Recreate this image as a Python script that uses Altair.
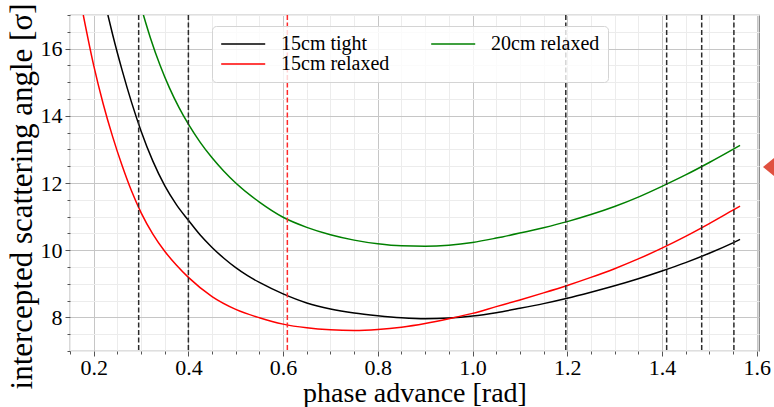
import altair as alt
import pandas as pd

# Intercepted scattering angle vs. phase advance for three collimator setups
phase_tight = [0.23, 0.24, 0.26, 0.28, 0.30, 0.325, 0.35, 0.375, 0.40, 0.425, 0.45, 0.475,
               0.50, 0.525, 0.55, 0.60, 0.65, 0.70, 0.75, 0.80, 0.85, 0.90, 0.95, 1.00,
               1.05, 1.10, 1.15, 1.20, 1.25, 1.30, 1.35, 1.40, 1.45, 1.50, 1.55, 1.565]
angle_tight = [17.0, 16.42, 15.36, 14.40, 13.55, 12.65, 11.92, 11.35, 10.89, 10.45, 10.08, 9.76,
               9.48, 9.24, 9.04, 8.70, 8.43, 8.25, 8.13, 8.05, 7.99, 7.96, 7.98, 8.04,
               8.14, 8.27, 8.41, 8.57, 8.75, 8.94, 9.15, 9.38, 9.63, 9.91, 10.22, 10.32]

phase_relaxed15 = [0.178, 0.20, 0.22, 0.24, 0.26, 0.28, 0.30, 0.325, 0.35, 0.375, 0.40, 0.45,
                   0.50, 0.55, 0.60, 0.65, 0.70, 0.75, 0.80, 0.85, 0.90, 0.95, 1.00, 1.05,
                   1.10, 1.15, 1.20, 1.25, 1.30, 1.35, 1.40, 1.45, 1.50, 1.55, 1.565]
angle_relaxed15 = [17.0, 15.5, 14.36, 13.38, 12.52, 11.76, 11.12, 10.48, 9.97, 9.55, 9.19, 8.62,
                   8.24, 7.99, 7.80, 7.69, 7.63, 7.61, 7.64, 7.71, 7.82, 7.96, 8.12, 8.32,
                   8.52, 8.73, 8.95, 9.19, 9.45, 9.74, 10.06, 10.41, 10.79, 11.19, 11.31]

phase_relaxed20 = [0.305, 0.32, 0.34, 0.36, 0.38, 0.40, 0.425, 0.45, 0.475, 0.50, 0.55, 0.60,
                   0.65, 0.70, 0.75, 0.80, 0.85, 0.90, 0.95, 1.00, 1.05, 1.10, 1.15, 1.20,
                   1.25, 1.30, 1.35, 1.40, 1.45, 1.50, 1.55, 1.565]
angle_relaxed20 = [17.0, 16.31, 15.51, 14.83, 14.25, 13.75, 13.21, 12.75, 12.35, 12.0, 11.43, 10.98,
                   10.68, 10.46, 10.30, 10.19, 10.13, 10.12, 10.15, 10.23, 10.36, 10.51, 10.67, 10.85,
                   11.06, 11.30, 11.58, 11.90, 12.24, 12.61, 13.0, 13.12]

series_names = ["15cm tight", "15cm relaxed", "20cm relaxed"]
series_colors = ["#000000", "#ff0000", "#008000"]

# marked phase advances
cuts_black = [0.295, 0.400, 1.197, 1.410, 1.484, 1.552]
cuts_red = [0.609]

# tick positions (major every 0.2 / 2, minor every 0.05 / 0.5)
x_ticks = [round(0.15 + 0.05 * i, 2) for i in range(30)]
y_ticks = [7 + 0.5 * i for i in range(21)]

curves = pd.concat([
    pd.DataFrame({"phase": phase_tight, "angle": angle_tight, "setup": "15cm tight"}),
    pd.DataFrame({"phase": phase_relaxed15, "angle": angle_relaxed15, "setup": "15cm relaxed"}),
    pd.DataFrame({"phase": phase_relaxed20, "angle": angle_relaxed20, "setup": "20cm relaxed"}),
])

FONT = "Liberation Serif"
major_x = "abs(datum.value * 5 - round(datum.value * 5)) < 0.001"
major_y = "datum.value % 2 == 0"

x_scale = alt.Scale(domain=[0.15, 1.605], nice=False, zero=False)
y_scale = alt.Scale(domain=[7, 17], nice=False, zero=False)

x_axis = alt.Axis(
    values=x_ticks,
    labelExpr=f"{major_x} ? format(datum.value, '.1f') : ''",
    gridColor={"condition": {"test": major_x, "value": "#c6c6c6"}, "value": "#ececec"},
    tickSize={"condition": {"test": major_x, "value": 5}, "value": 3},
    title="phase advance [rad]",
    titleFontSize=28,
    titlePadding=1,
    labelPadding=1,
)
y_axis = alt.Axis(
    values=y_ticks,
    labelExpr=f"{major_y} ? format(datum.value, 'd') : ''",
    gridColor={"condition": {"test": major_y, "value": "#c6c6c6"}, "value": "#ececec"},
    tickSize={"condition": {"test": major_y, "value": 5}, "value": 3},
    title="intercepted scattering angle [σ]",
    titleFontSize=31,
    titlePadding=2,
    titleY=181,
    labelPadding=3,
)

x_enc = alt.X("phase:Q", scale=x_scale, axis=x_axis)

lines = alt.Chart(curves).mark_line(strokeWidth=1.5, clip=True, interpolate="monotone").encode(
    x=x_enc,
    y=alt.Y("angle:Q", scale=y_scale, axis=y_axis),
    color=alt.Color(
        "setup:N",
        scale=alt.Scale(domain=series_names, range=series_colors),
        legend=alt.Legend(
            title=None,
            orient="none",
            legendX=142,
            legendY=11,
            columns=2,
            columnPadding=38,
            rowPadding=0,
            symbolType="M-1,0H4",
            symbolSize=310,
            symbolStrokeWidth=1.5,
            labelFont=FONT,
            labelFontSize=20,
            labelColor="#000000",
            labelOffset=41,
            strokeColor="#d4d4d4",
            fillColor="rgba(255,255,255,0.8)",
            cornerRadius=4,
            padding=8,
        ),
    ),
)

black_rules = alt.Chart(pd.DataFrame({"phase": cuts_black})).mark_rule(
    color="#2b2b2b", strokeWidth=1.5, strokeDash=[5, 2.5]
).encode(x=x_enc)

red_rules = alt.Chart(pd.DataFrame({"phase": cuts_red})).mark_rule(
    color="#ff2a2a", strokeWidth=1.5, strokeDash=[5, 2.5]
).encode(x=x_enc)

arrow_head = alt.Chart(pd.DataFrame({"k": [0]})).mark_point(
    shape="M-1,0L1,-1.64L1,1.64Z", filled=True, color="#e0503f", opacity=1, size=400, clip=False
).encode(x=alt.value(703), y=alt.value(152))

chart = (
    alt.layer(lines, black_rules, red_rules, arrow_head)
    .properties(
        width=689,
        height=336,
        autosize=alt.AutoSizeParams(type="none"),
        padding={"left": 70, "top": 15, "right": 15, "bottom": 56},
        background="#ffffff",
    )
    .configure_view(stroke="#808080", strokeWidth=1.2)
    .configure_axis(
        domain=False,
        labelFont=FONT,
        labelFontSize=22,
        labelColor="#000000",
        titleFont=FONT,
        titleFontWeight="normal",
        titleColor="#000000",
        tickColor="#555555",
        gridOpacity=1,
        labelOverlap=False,
        labelFlush=False,
    )
)

chart.save("out.html", embed_options={"renderer": "svg", "actions": False})
